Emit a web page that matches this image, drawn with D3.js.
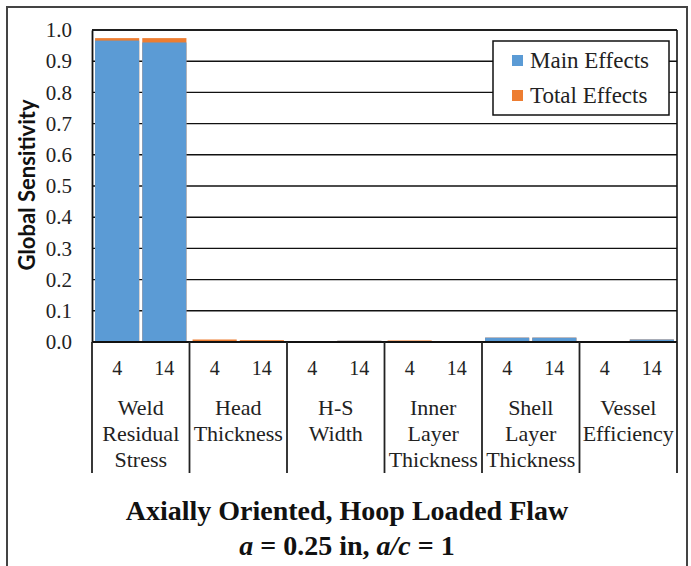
<!DOCTYPE html>
<html>
<head>
<meta charset="utf-8">
<script src="https://cdn.jsdelivr.net/npm/d3@7"></script>
<style>
  html, body { margin: 0; padding: 0; background: #fff; }
  svg { display: block; }
  #chart text, #chart tspan { font-family: "Liberation Serif", "Times New Roman", Times, serif !important; }
  #chart text.ytitle { font-family: Lato, sans-serif !important; }
</style>
</head>
<body>
<svg id="chart" width="691" height="566" xmlns="http://www.w3.org/2000/svg"></svg>
<script>
// ---------- data ----------
const groupLabels = [
  ["Weld", "Residual", "Stress"],
  ["Head", "Thickness"],
  ["H-S", "Width"],
  ["Inner", "Layer", "Thickness"],
  ["Shell", "Layer", "Thickness"],
  ["Vessel", "Efficiency"]
];
const subLabels = ["4", "14"];
const mainEffects = [
  [0.966, 0.960],
  [0.000, 0.000],
  [0.000, 0.004],
  [0.000, 0.000],
  [0.014, 0.014],
  [0.000, 0.008]
];
const totalEffects = [
  [0.974, 0.974],
  [0.008, 0.006],
  [0.000, 0.004],
  [0.005, 0.000],
  [0.014, 0.014],
  [0.000, 0.008]
];
const yTicks = [0, 0.1, 0.2, 0.3, 0.4, 0.5, 0.6, 0.7, 0.8, 0.9, 1.0];
const seriesNames = ["Main Effects", "Total Effects"];
const colors = { main: "#5B9BD5", total: "#ED7D31" };

// ---------- layout ----------
const svg = d3.select("#chart");
const pLeft = 92, pRight = 677, pTop = 30, pBottom = 342;
const serifFont = "Liberation Serif, Times New Roman, serif";

// outer frame
svg.append("rect")
  .attr("x", 7).attr("y", 7).attr("width", 680).attr("height", 580)
  .attr("fill", "#fff").attr("stroke", "#444").attr("stroke-width", 2);

const x0 = d3.scaleBand().domain(d3.range(groupLabels.length)).range([pLeft, pRight]);
const x1 = d3.scaleBand().domain(subLabels).range([0, x0.bandwidth()])
  .paddingInner(0.065).paddingOuter(0.065);
const y = d3.scaleLinear().domain([0, 1]).range([pBottom, pTop]);

// gridlines
svg.append("g").selectAll("line").data(yTicks).join("line")
  .attr("x1", pLeft).attr("x2", pRight)
  .attr("y1", d => y(d)).attr("y2", d => y(d))
  .attr("stroke", "#111").attr("stroke-width", 1.4);

// plot frame top/right
svg.append("line").attr("x1", pLeft).attr("x2", pRight).attr("y1", pTop).attr("y2", pTop)
  .attr("stroke", "#111").attr("stroke-width", 1.6);
svg.append("line").attr("x1", pRight).attr("x2", pRight).attr("y1", pTop).attr("y2", pBottom)
  .attr("stroke", "#111").attr("stroke-width", 1.6);

// bars
const groups = svg.append("g").selectAll("g").data(groupLabels).join("g")
  .attr("transform", (d, i) => `translate(${x0(i)},0)`);

groups.each(function(_, gi) {
  const g = d3.select(this);
  subLabels.forEach((s, si) => {
    const t = totalEffects[gi][si], m = mainEffects[gi][si];
    if (t > 0) {
      g.append("rect").attr("x", x1(s)).attr("width", x1.bandwidth())
        .attr("y", y(t)).attr("height", y(0) - y(t)).attr("fill", colors.total);
    }
    if (m > 0) {
      g.append("rect").attr("x", x1(s)).attr("width", x1.bandwidth())
        .attr("y", y(m)).attr("height", y(0) - y(m)).attr("fill", colors.main);
    }
  });
});

// y axis
const yAxis = d3.axisLeft(y).tickValues(yTicks).tickFormat(d3.format(".1f"))
  .tickSize(0).tickPadding(20);
const yg = svg.append("g").attr("transform", `translate(${pLeft},0)`).call(yAxis);
yg.attr("font-family", serifFont).attr("font-size", 21);
yg.select(".domain").attr("stroke", "#111").attr("stroke-width", 1.8);
yg.selectAll("text").attr("fill", "#222").attr("font-family", serifFont);

// x axis line + separators
svg.append("line").attr("x1", pLeft).attr("x2", pRight).attr("y1", pBottom).attr("y2", pBottom)
  .attr("stroke", "#111").attr("stroke-width", 1.8);
const seps = d3.range(groupLabels.length + 1).map(i => i < groupLabels.length ? x0(i) : pRight);
svg.append("g").selectAll("line").data(seps).join("line")
  .attr("x1", d => d).attr("x2", d => d).attr("y1", pBottom).attr("y2", 473)
  .attr("stroke", "#222").attr("stroke-width", 1.8);

// sub labels
groups.each(function() {
  d3.select(this).selectAll("text.sub").data(subLabels).join("text")
    .attr("class", "sub")
    .attr("x", d => x1(d) + x1.bandwidth() / 2).attr("y", 375)
    .attr("text-anchor", "middle").attr("font-family", serifFont).attr("font-size", 20)
    .attr("fill", "#222").text(d => d);
});

// group labels
groups.each(function(lines) {
  const t = d3.select(this).append("text")
    .attr("text-anchor", "middle").attr("font-family", serifFont).attr("font-size", 22)
    .attr("fill", "#222");
  lines.forEach((ln, li) => {
    t.append("tspan").attr("x", x0.bandwidth() / 2).attr("y", 415 + li * 26).text(ln);
  });
});

// y title
svg.append("text").attr("class", "ytitle")
  .attr("transform", `translate(35,${(95 + 275) / 2}) rotate(-90)`)
  .attr("text-anchor", "middle").attr("font-family", "Lato")
  .attr("font-weight", "bold").attr("font-size", 22).attr("fill", "#111")
  .text("Global Sensitivity");

// legend
const lg = svg.append("g");
lg.append("rect").attr("x", 493).attr("y", 41).attr("width", 176).attr("height", 74)
  .attr("fill", "#fff").attr("stroke", "#111").attr("stroke-width", 1.5);
[colors.main, colors.total].forEach((c, i) => {
  lg.append("rect").attr("x", 512).attr("y", 55 + i * 35).attr("width", 11).attr("height", 11)
    .attr("fill", c);
  lg.append("text").attr("x", 530).attr("y", 68 + i * 35)
    .attr("font-family", serifFont).attr("font-size", 23).attr("fill", "#222")
    .text(seriesNames[i]);
});

// title
svg.append("text").attr("x", 347).attr("y", 520).attr("text-anchor", "middle")
  .attr("font-family", serifFont).attr("font-weight", "bold").attr("font-size", 28).attr("fill", "#111")
  .text("Axially Oriented, Hoop Loaded Flaw");
const t2 = svg.append("text").attr("x", 347).attr("y", 555).attr("text-anchor", "middle")
  .attr("font-family", serifFont).attr("font-weight", "bold").attr("font-size", 28).attr("fill", "#111");
t2.append("tspan").attr("font-style", "italic").text("a");
t2.append("tspan").text(" = 0.25 in, ");
t2.append("tspan").attr("font-style", "italic").text("a/c");
t2.append("tspan").text(" = 1");
</script>
</body>
</html>
